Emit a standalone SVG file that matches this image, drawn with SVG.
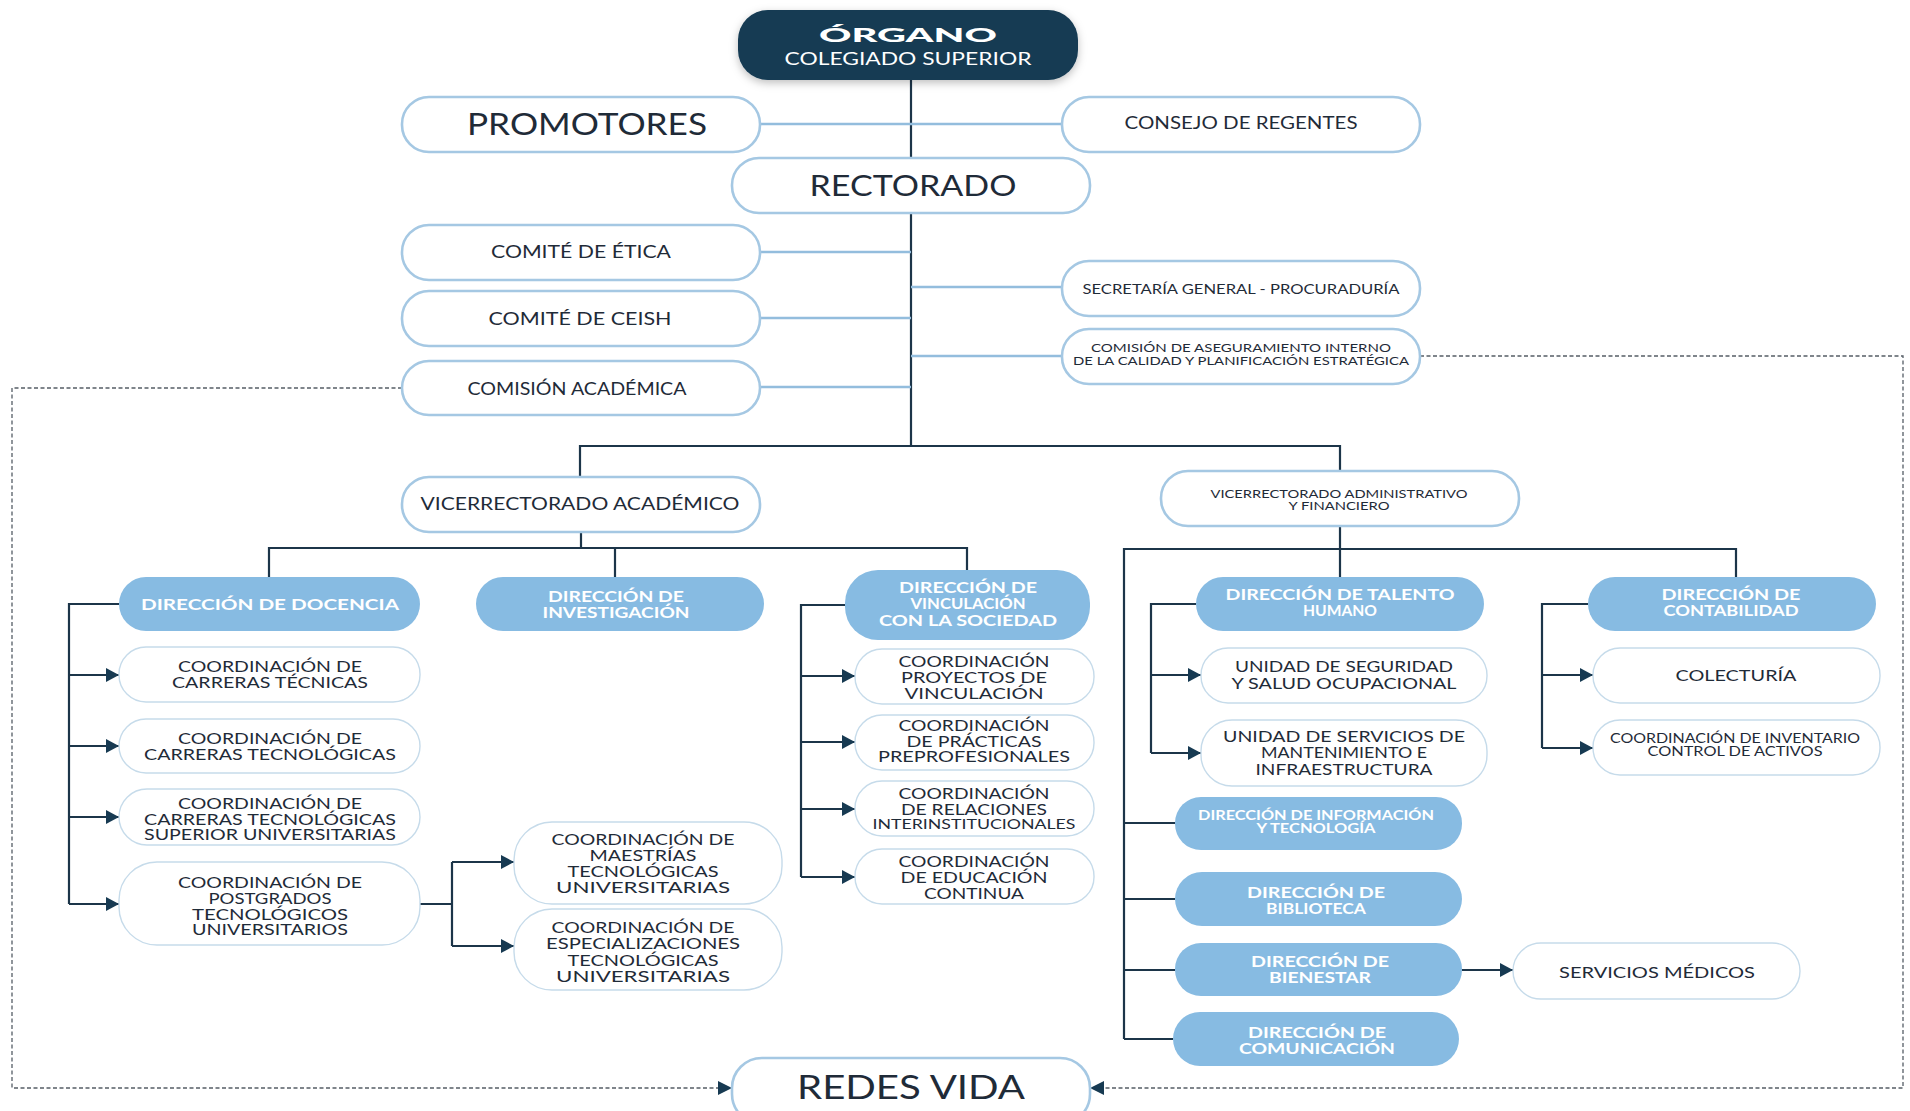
<svg xmlns="http://www.w3.org/2000/svg" width="1910" height="1111" viewBox="0 0 1910 1111">
<defs>
<style>
text{font-family:Lato,"Open Sans","Liberation Sans",sans-serif;fill:#1f2b38;text-anchor:middle}
.w{fill:#ffffff}
.b{font-weight:700}
.m{font-size:14.5px}
.out{fill:#ffffff;stroke:#a5c8e3;stroke-width:2.6}
.thin{fill:#ffffff;stroke:#c6dbea;stroke-width:1.4}
.fil{fill:#87bbe2}
.dk{fill:none;stroke:#1c3549;stroke-width:2.2}
.lt{fill:none;stroke:#93bddd;stroke-width:2.6}
.da{fill:none;stroke:#555d66;stroke-width:1.3;stroke-dasharray:4 2.5}
</style>
<marker id="ar" markerUnits="userSpaceOnUse" markerWidth="14" markerHeight="14" refX="13" refY="7" orient="auto">
<path d="M0,0 L13,7 L0,14 z" fill="#173a52"/>
</marker>
<filter id="sh" x="-10%" y="-20%" width="120%" height="150%">
<feDropShadow dx="0" dy="3" stdDeviation="4" flood-color="#000" flood-opacity="0.25"/>
</filter>
</defs>
<rect width="1910" height="1111" fill="#ffffff"/>

<g id="connectors">
<path class="dk" d="M911,80 V158 M911,213 V446"/>
<path class="lt" d="M760,124 H1062"/>
<path class="lt" d="M760,252 H911 M760,318 H911 M760,387 H911 M911,287 H1062 M911,356 H1062"/>
<path class="dk" d="M580,477 V446 H1340 V471"/>
<path class="dk" d="M581,532 V548 M269,577 V548 H967 V570 M615,548 V577"/>
<path class="dk" d="M119,604 H69 V904"/>
<path class="dk" marker-end="url(#ar)" d="M69,675 H119"/>
<path class="dk" marker-end="url(#ar)" d="M69,746 H119"/>
<path class="dk" marker-end="url(#ar)" d="M69,817 H119"/>
<path class="dk" marker-end="url(#ar)" d="M69,904 H119"/>
<path class="dk" d="M420,904 H452 M452,862 V946"/>
<path class="dk" marker-end="url(#ar)" d="M452,862 H514"/>
<path class="dk" marker-end="url(#ar)" d="M452,946 H514"/>
<path class="dk" d="M845,605 H801 V877"/>
<path class="dk" marker-end="url(#ar)" d="M801,676 H855"/>
<path class="dk" marker-end="url(#ar)" d="M801,742 H855"/>
<path class="dk" marker-end="url(#ar)" d="M801,809 H855"/>
<path class="dk" marker-end="url(#ar)" d="M801,877 H855"/>
<path class="dk" d="M1340,526 V577 M1124,1039 V549 H1736 V577"/>
<path class="dk" d="M1124,823 H1175 M1124,899 H1175 M1124,970 H1175 M1124,1039 H1173"/>
<path class="dk" d="M1196,604 H1151 V753"/>
<path class="dk" marker-end="url(#ar)" d="M1151,675 H1201"/>
<path class="dk" marker-end="url(#ar)" d="M1151,753 H1201"/>
<path class="dk" d="M1588,604 H1542 V748"/>
<path class="dk" marker-end="url(#ar)" d="M1542,675 H1593"/>
<path class="dk" marker-end="url(#ar)" d="M1542,748 H1593"/>
<path class="dk" marker-end="url(#ar)" d="M1462,970 H1513"/>
<path class="da" d="M402,388 H12 V1088 H718"/>
<path d="M718,1081 L732,1088 L718,1095 z" fill="#173a52"/>
<path class="da" d="M1420,356 H1903 V1088 H1104"/>
<path d="M1104,1081 L1090,1088 L1104,1095 z" fill="#173a52"/>
</g>

<g id="organo">
<rect x="738" y="10" width="340" height="70" rx="30" fill="#143a52" filter="url(#sh)"/>
<text class="w" x="908" y="42" font-size="19" font-weight="900" textLength="178" lengthAdjust="spacingAndGlyphs">ÓRGANO</text>
<text class="w" x="908" y="65" font-size="17" textLength="247" lengthAdjust="spacingAndGlyphs">COLEGIADO SUPERIOR</text>
</g>

<g id="promotores">
<rect class="out" x="402" y="97" width="358" height="55" rx="27"/>
<text x="587" y="135" font-size="30" textLength="240" lengthAdjust="spacingAndGlyphs">PROMOTORES</text>
</g>
<g id="consejo">
<rect class="out" x="1062" y="97" width="358" height="55" rx="27"/>
<text x="1241" y="129" font-size="17" textLength="233" lengthAdjust="spacingAndGlyphs">CONSEJO DE REGENTES</text>
</g>
<g id="rectorado">
<rect class="out" x="732" y="158" width="358" height="55" rx="27"/>
<text x="913" y="196" font-size="29" textLength="207" lengthAdjust="spacingAndGlyphs">RECTORADO</text>
</g>
<g id="etica">
<rect class="out" x="402" y="225" width="358" height="55" rx="27"/>
<text x="581" y="258" font-size="17" textLength="180" lengthAdjust="spacingAndGlyphs">COMITÉ DE ÉTICA</text>
</g>
<g id="ceish">
<rect class="out" x="402" y="291" width="358" height="55" rx="27"/>
<text x="580" y="325" font-size="17" textLength="183" lengthAdjust="spacingAndGlyphs">COMITÉ DE CEISH</text>
</g>
<g id="academica">
<rect class="out" x="402" y="361" width="358" height="54" rx="27"/>
<text x="577" y="395" font-size="17" textLength="219" lengthAdjust="spacingAndGlyphs">COMISIÓN ACADÉMICA</text>
</g>
<g id="secretaria">
<rect class="out" x="1062" y="261" width="358" height="55" rx="27"/>
<text x="1241" y="294" font-size="14" textLength="317" lengthAdjust="spacingAndGlyphs">SECRETARÍA GENERAL - PROCURADURÍA</text>
</g>
<g id="aseguramiento">
<rect class="out" x="1062" y="329" width="358" height="55" rx="27"/>
<text x="1241" y="352" font-size="11.5" textLength="300" lengthAdjust="spacingAndGlyphs">COMISIÓN DE ASEGURAMIENTO INTERNO</text>
<text x="1241" y="365" font-size="11.5" textLength="336" lengthAdjust="spacingAndGlyphs">DE LA CALIDAD Y PLANIFICACIÓN ESTRATÉGICA</text>
</g>

<g id="vic-academico">
<rect class="out" x="402" y="477" width="358" height="55" rx="27"/>
<text x="580" y="510" font-size="17" textLength="319" lengthAdjust="spacingAndGlyphs">VICERRECTORADO ACADÉMICO</text>
</g>
<g id="vic-administrativo">
<rect class="out" x="1161" y="471" width="358" height="55" rx="27"/>
<text x="1339" y="498" font-size="12" textLength="257" lengthAdjust="spacingAndGlyphs">VICERRECTORADO ADMINISTRATIVO</text>
<text x="1339" y="510" font-size="12" textLength="101" lengthAdjust="spacingAndGlyphs">Y FINANCIERO</text>
</g>

<g id="docencia">
<rect class="fil" x="119" y="577" width="301" height="54" rx="27"/>
<text class="w b" x="270" y="610" font-size="16" textLength="258" lengthAdjust="spacingAndGlyphs">DIRECCIÓN DE DOCENCIA</text>
</g>
<g id="investigacion">
<rect class="fil" x="476" y="577" width="288" height="54" rx="27"/>
<text class="w b m" x="616" y="602" textLength="136" lengthAdjust="spacingAndGlyphs">DIRECCIÓN DE</text>
<text class="w b m" x="616" y="618" textLength="147" lengthAdjust="spacingAndGlyphs">INVESTIGACIÓN</text>
</g>
<g id="vinculacion">
<rect class="fil" x="845" y="570" width="245" height="70" rx="33"/>
<text class="w b m" x="968" y="593" textLength="138" lengthAdjust="spacingAndGlyphs">DIRECCIÓN DE</text>
<text class="w b m" x="968" y="609" textLength="115" lengthAdjust="spacingAndGlyphs">VINCULACIÓN</text>
<text class="w b m" x="968" y="626" textLength="178" lengthAdjust="spacingAndGlyphs">CON LA SOCIEDAD</text>
</g>

<g id="coord-tecnicas">
<rect class="thin" x="119" y="647" width="301" height="55" rx="27"/>
<text class="m" x="270" y="672" textLength="184" lengthAdjust="spacingAndGlyphs">COORDINACIÓN DE</text>
<text class="m" x="270" y="688" textLength="196" lengthAdjust="spacingAndGlyphs">CARRERAS TÉCNICAS</text>
</g>
<g id="coord-tecnologicas">
<rect class="thin" x="119" y="719" width="301" height="54" rx="27"/>
<text class="m" x="270" y="744" textLength="184" lengthAdjust="spacingAndGlyphs">COORDINACIÓN DE</text>
<text class="m" x="270" y="760" textLength="252" lengthAdjust="spacingAndGlyphs">CARRERAS TECNOLÓGICAS</text>
</g>
<g id="coord-superior">
<rect class="thin" x="119" y="789" width="301" height="56" rx="28"/>
<text class="m" x="270" y="809" textLength="184" lengthAdjust="spacingAndGlyphs">COORDINACIÓN DE</text>
<text class="m" x="270" y="825" textLength="252" lengthAdjust="spacingAndGlyphs">CARRERAS TECNOLÓGICAS</text>
<text class="m" x="270" y="840" textLength="252" lengthAdjust="spacingAndGlyphs">SUPERIOR UNIVERSITARIAS</text>
</g>
<g id="coord-postgrados">
<rect class="thin" x="119" y="862" width="301" height="83" rx="38"/>
<text class="m" x="270" y="888" textLength="184" lengthAdjust="spacingAndGlyphs">COORDINACIÓN DE</text>
<text class="m" x="270" y="904" textLength="123" lengthAdjust="spacingAndGlyphs">POSTGRADOS</text>
<text class="m" x="270" y="920" textLength="156" lengthAdjust="spacingAndGlyphs">TECNOLÓGICOS</text>
<text class="m" x="270" y="935" textLength="156" lengthAdjust="spacingAndGlyphs">UNIVERSITARIOS</text>
</g>
<g id="coord-maestrias">
<rect class="thin" x="514" y="822" width="268" height="82" rx="38"/>
<text class="m" x="643" y="845" textLength="183" lengthAdjust="spacingAndGlyphs">COORDINACIÓN DE</text>
<text class="m" x="643" y="861" textLength="107" lengthAdjust="spacingAndGlyphs">MAESTRÍAS</text>
<text class="m" x="643" y="877" textLength="151" lengthAdjust="spacingAndGlyphs">TECNOLÓGICAS</text>
<text class="m" x="643" y="893" textLength="174" lengthAdjust="spacingAndGlyphs">UNIVERSITARIAS</text>
</g>
<g id="coord-especializaciones">
<rect class="thin" x="514" y="909" width="268" height="81" rx="38"/>
<text class="m" x="643" y="933" textLength="183" lengthAdjust="spacingAndGlyphs">COORDINACIÓN DE</text>
<text class="m" x="643" y="949" textLength="194" lengthAdjust="spacingAndGlyphs">ESPECIALIZACIONES</text>
<text class="m" x="643" y="966" textLength="151" lengthAdjust="spacingAndGlyphs">TECNOLÓGICAS</text>
<text class="m" x="643" y="982" textLength="174" lengthAdjust="spacingAndGlyphs">UNIVERSITARIAS</text>
</g>

<g id="coord-proyectos">
<rect class="thin" x="855" y="649" width="239" height="55" rx="27"/>
<text class="m" x="974" y="667" textLength="151" lengthAdjust="spacingAndGlyphs">COORDINACIÓN</text>
<text class="m" x="974" y="683" textLength="146" lengthAdjust="spacingAndGlyphs">PROYECTOS DE</text>
<text class="m" x="974" y="699" textLength="139" lengthAdjust="spacingAndGlyphs">VINCULACIÓN</text>
</g>
<g id="coord-practicas">
<rect class="thin" x="855" y="715" width="239" height="55" rx="27"/>
<text class="m" x="974" y="731" textLength="151" lengthAdjust="spacingAndGlyphs">COORDINACIÓN</text>
<text class="m" x="974" y="747" textLength="135" lengthAdjust="spacingAndGlyphs">DE PRÁCTICAS</text>
<text class="m" x="974" y="762" textLength="192" lengthAdjust="spacingAndGlyphs">PREPROFESIONALES</text>
</g>
<g id="coord-relaciones">
<rect class="thin" x="855" y="781" width="239" height="55" rx="27"/>
<text class="m" x="974" y="799" textLength="151" lengthAdjust="spacingAndGlyphs">COORDINACIÓN</text>
<text class="m" x="974" y="815" textLength="146" lengthAdjust="spacingAndGlyphs">DE RELACIONES</text>
<text x="974" y="829" font-size="13" textLength="203" lengthAdjust="spacingAndGlyphs">INTERINSTITUCIONALES</text>
</g>
<g id="coord-educacion">
<rect class="thin" x="855" y="849" width="239" height="55" rx="27"/>
<text class="m" x="974" y="867" textLength="151" lengthAdjust="spacingAndGlyphs">COORDINACIÓN</text>
<text class="m" x="974" y="883" textLength="147" lengthAdjust="spacingAndGlyphs">DE EDUCACIÓN</text>
<text class="m" x="974" y="899" textLength="100" lengthAdjust="spacingAndGlyphs">CONTINUA</text>
</g>

<g id="talento">
<rect class="fil" x="1196" y="577" width="288" height="54" rx="27"/>
<text class="w b m" x="1340" y="600" textLength="229" lengthAdjust="spacingAndGlyphs">DIRECCIÓN DE TALENTO</text>
<text class="w b m" x="1340" y="616" textLength="74" lengthAdjust="spacingAndGlyphs">HUMANO</text>
</g>
<g id="contabilidad">
<rect class="fil" x="1588" y="577" width="288" height="54" rx="27"/>
<text class="w b m" x="1731" y="600" textLength="139" lengthAdjust="spacingAndGlyphs">DIRECCIÓN DE</text>
<text class="w b m" x="1731" y="616" textLength="135" lengthAdjust="spacingAndGlyphs">CONTABILIDAD</text>
</g>
<g id="seguridad">
<rect class="thin" x="1201" y="648" width="286" height="55" rx="27"/>
<text x="1344" y="672" font-size="15.5" textLength="218" lengthAdjust="spacingAndGlyphs">UNIDAD DE SEGURIDAD</text>
<text x="1344" y="689" font-size="15.5" textLength="225" lengthAdjust="spacingAndGlyphs">Y SALUD OCUPACIONAL</text>
</g>
<g id="mantenimiento">
<rect class="thin" x="1201" y="720" width="286" height="66" rx="31"/>
<text class="m" x="1344" y="742" textLength="242" lengthAdjust="spacingAndGlyphs">UNIDAD DE SERVICIOS DE</text>
<text class="m" x="1344" y="758" textLength="166" lengthAdjust="spacingAndGlyphs">MANTENIMIENTO E</text>
<text class="m" x="1344" y="775" textLength="177" lengthAdjust="spacingAndGlyphs">INFRAESTRUCTURA</text>
</g>
<g id="colecturia">
<rect class="thin" x="1593" y="648" width="287" height="55" rx="27"/>
<text x="1736" y="681" font-size="16" textLength="121" lengthAdjust="spacingAndGlyphs">COLECTURÍA</text>
</g>
<g id="inventario">
<rect class="thin" x="1593" y="720" width="287" height="55" rx="27"/>
<text x="1735" y="743" font-size="12.5" textLength="250" lengthAdjust="spacingAndGlyphs">COORDINACIÓN DE INVENTARIO</text>
<text x="1735" y="756" font-size="12.5" textLength="175" lengthAdjust="spacingAndGlyphs">CONTROL DE ACTIVOS</text>
</g>
<g id="informacion">
<rect class="fil" x="1175" y="797" width="287" height="53" rx="26"/>
<text class="w b" x="1316" y="820" font-size="13.5" textLength="236" lengthAdjust="spacingAndGlyphs">DIRECCIÓN DE INFORMACIÓN</text>
<text class="w b" x="1316" y="833" font-size="13.5" textLength="119" lengthAdjust="spacingAndGlyphs">Y TECNOLOGÍA</text>
</g>
<g id="biblioteca">
<rect class="fil" x="1175" y="872" width="287" height="54" rx="27"/>
<text class="w b m" x="1316" y="898" textLength="138" lengthAdjust="spacingAndGlyphs">DIRECCIÓN DE</text>
<text class="w b m" x="1316" y="914" textLength="100" lengthAdjust="spacingAndGlyphs">BIBLIOTECA</text>
</g>
<g id="bienestar">
<rect class="fil" x="1175" y="943" width="287" height="53" rx="26"/>
<text class="w b m" x="1320" y="967" textLength="138" lengthAdjust="spacingAndGlyphs">DIRECCIÓN DE</text>
<text class="w b m" x="1320" y="983" textLength="102" lengthAdjust="spacingAndGlyphs">BIENESTAR</text>
</g>
<g id="comunicacion">
<rect class="fil" x="1173" y="1012" width="286" height="54" rx="27"/>
<text class="w b m" x="1317" y="1038" textLength="138" lengthAdjust="spacingAndGlyphs">DIRECCIÓN DE</text>
<text class="w b m" x="1317" y="1054" textLength="156" lengthAdjust="spacingAndGlyphs">COMUNICACIÓN</text>
</g>
<g id="servicios-medicos">
<rect class="thin" x="1513" y="943" width="287" height="56" rx="28"/>
<text x="1657" y="978" font-size="16" textLength="196" lengthAdjust="spacingAndGlyphs">SERVICIOS MÉDICOS</text>
</g>
<g id="redes-vida">
<rect class="out" x="732" y="1058" width="358" height="66" rx="30"/>
<text x="911" y="1099" font-size="32" textLength="228" lengthAdjust="spacingAndGlyphs">REDES VIDA</text>
</g>
</svg>
